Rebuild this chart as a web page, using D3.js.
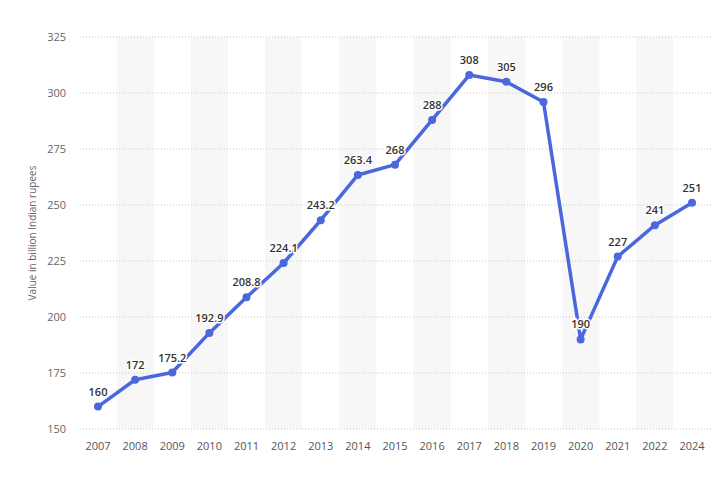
<!DOCTYPE html>
<html><head><meta charset="utf-8">
<script src="https://cdn.jsdelivr.net/npm/d3@7"></script>
<style>body{margin:0;background:#fff;font-family:"Open Sans",sans-serif}</style>
</head><body><div id="chart"></div>
<script>
const years = ["2007","2008","2009","2010","2011","2012","2013","2014","2015","2016","2017","2018","2019","2020","2021","2022","2024"];
const values = [160,172,175.2,192.9,208.8,224.1,243.2,263.4,268,288,308,305,296,190,227,241,251];
const labels = ["160","172","175.2","192.9","208.8","224.1","243.2","263.4","268","288","308","305","296","190","227","241","251"];
const yTicks = [150,175,200,225,250,275,300,325];

const W = 725, H = 479;
const svg = d3.select("#chart").append("svg").attr("width", W).attr("height", H);

const x = d3.scalePoint().domain(years).range([98, 692]);
const step = x.step();
const y = d3.scaleLinear().domain([150, 325]).range([429, 37]);

// alternating bands
svg.selectAll("rect.band")
  .data(years.filter((d, i) => i % 2 === 1))
  .join("rect")
  .attr("x", d => x(d) - step / 2)
  .attr("y", y(325))
  .attr("width", step)
  .attr("height", y(150) - y(325))
  .attr("fill", "#f7f7f7");

// grid
svg.selectAll("line.grid")
  .data(yTicks)
  .join("line")
  .attr("x1", 80).attr("x2", 712)
  .attr("y1", d => y(d)).attr("y2", d => y(d))
  .attr("stroke", "#c8c8c8")
  .attr("stroke-dasharray", "1,2");

svg.selectAll("text.ytick")
  .data(yTicks)
  .join("text")
  .attr("x", 66).attr("y", d => y(d) + 4)
  .attr("text-anchor", "end")
  .attr("font-size", 11).attr("fill", "#666")
  .text(d => d);

svg.selectAll("text.xtick")
  .data(years)
  .join("text")
  .attr("x", d => x(d)).attr("y", 450)
  .attr("text-anchor", "middle")
  .attr("font-size", 11).attr("fill", "#555")
  .text(d => d);

svg.append("text")
  .attr("transform", "rotate(-90)")
  .attr("x", -233).attr("y", 36)
  .attr("text-anchor", "middle")
  .attr("font-size", 10).attr("fill", "#666")
  .text("Value in billion Indian rupees");

const line = d3.line().x((d, i) => x(years[i])).y(d => y(d));
svg.append("path")
  .datum(values)
  .attr("d", line)
  .attr("fill", "none")
  .attr("stroke", "#4a67dd")
  .attr("stroke-width", 3.5)
  .attr("stroke-linejoin", "round");

svg.selectAll("circle")
  .data(values)
  .join("circle")
  .attr("cx", (d, i) => x(years[i]))
  .attr("cy", d => y(d))
  .attr("r", 4)
  .attr("fill", "#4a67dd");

svg.selectAll("text.lbl")
  .data(values)
  .join("text")
  .attr("x", (d, i) => x(years[i]))
  .attr("y", d => y(d) - 11)
  .attr("text-anchor", "middle")
  .attr("font-size", 11).attr("font-weight", 600).attr("fill", "#333")
  .attr("stroke", "#fff").attr("stroke-width", 3).attr("paint-order", "stroke")
  .text((d, i) => labels[i]);
</script></body></html>
